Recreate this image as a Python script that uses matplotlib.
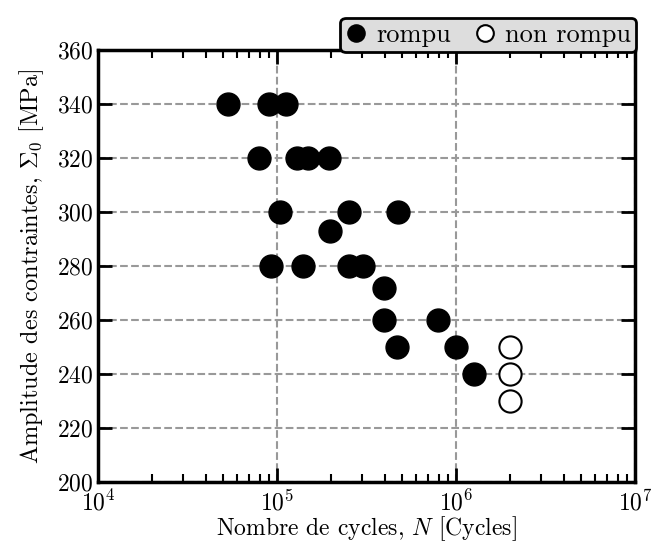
import numpy as np
import matplotlib
matplotlib.use("Agg")
import matplotlib.pyplot as plt

plt.rcParams['font.family'] = 'serif'
plt.rcParams['font.serif'] = ['cmr10']
plt.rcParams['mathtext.fontset'] = 'cm'
plt.rcParams['axes.formatter.use_mathtext'] = True
plt.rcParams['axes.unicode_minus'] = False

# essais rompus
n_rompu = [5.3e4, 9.0e4, 1.12e5,
           7.9e4, 1.29e5, 1.49e5, 1.95e5,
           1.04e5, 2.52e5, 4.74e5,
           1.98e5,
           9.3e4, 1.40e5, 2.52e5, 3.02e5,
           3.95e5,
           3.96e5, 7.9e5,
           4.68e5, 1.0e6,
           1.26e6]
s_rompu = [340, 340, 340,
           320, 320, 320, 320,
           300, 300, 300,
           293,
           280, 280, 280, 280,
           272,
           260, 260,
           250, 250,
           240]

# essais non rompus
n_non_rompu = [2.0e6, 2.0e6, 2.0e6]
s_non_rompu = [250, 240, 230]

fig = plt.figure(figsize=(6.51, 5.42), dpi=100)
ax = fig.add_axes([98 / 651, 1 - 482 / 542, 537 / 651, 432 / 542])

ax.semilogx(n_rompu, s_rompu, 'o', color='k', ms=16.5, label='rompu', zorder=3)
ax.semilogx(n_non_rompu, s_non_rompu, 'o', mfc='w', mec='k', mew=1.5, ms=16,
            label='non rompu', zorder=3)

ax.set_xlim(1e4, 1e7)
ax.set_ylim(200, 360)
ax.set_yticks(np.arange(200, 361, 20))
ax.grid(True, which='major', ls='--', color='#999999', lw=1.5)

ax.tick_params(which='both', direction='in', top=True, right=True, labelsize=17)
ax.tick_params(which='major', length=10, width=2)
ax.tick_params(which='minor', length=6, width=1.5)
ax.tick_params(axis='x', pad=5.5)
ax.tick_params(axis='y', pad=3)
for sp in ax.spines.values():
    sp.set_linewidth(2.5)

ax.set_xlabel(r'Nombre de cycles, $N$ [Cycles]', fontsize=17, labelpad=-1)
ax.set_ylabel(r'Amplitude des contraintes, $\Sigma_0$ [MPa]', fontsize=17.5,
              labelpad=8)

leg = ax.legend(loc='lower right', bbox_to_anchor=(1.002, 0.995), ncol=2,
                fontsize=19, frameon=True, fancybox=True, handletextpad=0.35,
                handlelength=0.8, columnspacing=0.9, borderpad=0.2,
                borderaxespad=0.0, markerscale=0.75)
leg.get_frame().set_facecolor('#dddddd')
leg.get_frame().set_edgecolor('k')
leg.get_frame().set_linewidth(2)
leg.get_frame().set_alpha(1)

fig.savefig('out.png', dpi=100)
